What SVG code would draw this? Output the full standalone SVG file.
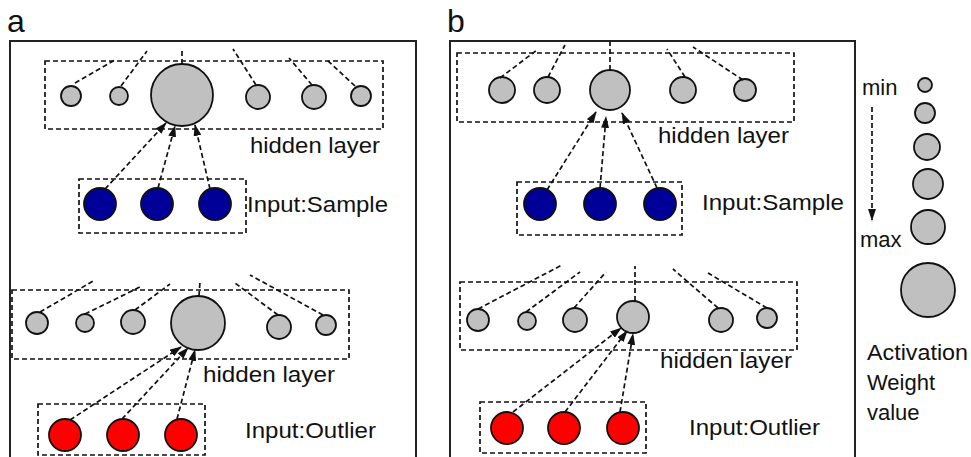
<svg xmlns="http://www.w3.org/2000/svg" width="971" height="457" viewBox="0 0 971 457">
  <style>
    .frame { fill: none; stroke: #222; stroke-width: 2; }
    .group { fill: none; stroke: #111; stroke-width: 1.7; stroke-dasharray: 5 3; }
    .link { fill: none; stroke: #111; stroke-width: 1.7; stroke-dasharray: 5 3; }
    .arrow { fill: none; stroke: #111; stroke-width: 1.7; stroke-dasharray: 5 3; marker-end: url(#head); }
    .hid { fill: #c0c0c0; stroke: #111; stroke-width: 1.8; }
    .smp { fill: #000099; stroke: #111; stroke-width: 1.8; }
    .out { fill: #ff0000; stroke: #111; stroke-width: 1.8; }
    text { font-family: "Liberation Sans", Arial, sans-serif; font-size: 22px; fill: #111; }
    .panel { font-size: 32px; }
  </style>
  <defs>
    <!-- elongated filled arrowhead -->
    <marker id="head" viewBox="0 0 12 8" refX="11" refY="4" markerWidth="7" markerHeight="4.7" orient="auto" markerUnits="strokeWidth">
      <path d="M0,0 L12,4 L0,8 z" fill="#111"/>
    </marker>
  </defs>

  <!-- panel labels and frames -->
  <text class="panel" x="7" y="32">a</text>
  <text class="panel" x="447" y="32">b</text>
  <rect class="frame" x="10" y="41" width="406" height="430"/>
  <rect class="frame" x="450" y="41" width="405" height="430"/>

  <!-- ===== panel a, sample ===== -->
  <g id="a-hidden-1">
    <rect class="group" x="45" y="61" width="338" height="68"/>
    <circle class="hid" cx="71" cy="96" r="10"/>
    <circle class="hid" cx="119" cy="96" r="9"/>
    <circle class="hid" cx="182" cy="95" r="31"/>
    <circle class="hid" cx="258" cy="97" r="12"/>
    <circle class="hid" cx="314" cy="97" r="12"/>
    <circle class="hid" cx="361" cy="96" r="10"/>
    <text x="250" y="153" textLength="130" lengthAdjust="spacingAndGlyphs">hidden layer</text>
  </g>
  <g id="a-input-sample">
    <rect class="group" x="79" y="179" width="167" height="54"/>
    <circle class="smp" cx="100" cy="204" r="16"/>
    <circle class="smp" cx="157" cy="204" r="16"/>
    <circle class="smp" cx="215" cy="204" r="16"/>
    <text x="247" y="212" textLength="141" lengthAdjust="spacingAndGlyphs">Input:Sample</text>
  </g>

  <!-- ===== panel a, outlier ===== -->
  <g id="a-hidden-2">
    <rect class="group" x="12" y="290" width="337" height="69"/>
    <circle class="hid" cx="37" cy="323" r="11"/>
    <circle class="hid" cx="85" cy="323" r="9"/>
    <circle class="hid" cx="133" cy="322" r="12"/>
    <circle class="hid" cx="198" cy="323" r="27"/>
    <circle class="hid" cx="279" cy="327" r="12"/>
    <circle class="hid" cx="326" cy="325" r="10"/>
    <text x="203" y="382" textLength="132" lengthAdjust="spacingAndGlyphs">hidden layer</text>
  </g>
  <g id="a-input-outlier">
    <rect class="group" x="38" y="404" width="167" height="51"/>
    <circle class="out" cx="65" cy="435" r="16"/>
    <circle class="out" cx="123" cy="435" r="16"/>
    <circle class="out" cx="181" cy="435" r="16"/>
    <text x="245" y="438" textLength="131" lengthAdjust="spacingAndGlyphs">Input:Outlier</text>
  </g>

  <!-- ===== panel b, sample ===== -->
  <g id="b-hidden-1">
    <rect class="group" x="457" y="53" width="337" height="69"/>
    <circle class="hid" cx="502" cy="90" r="13"/>
    <circle class="hid" cx="547" cy="90" r="13"/>
    <circle class="hid" cx="610" cy="90" r="20"/>
    <circle class="hid" cx="683" cy="90" r="13"/>
    <circle class="hid" cx="745" cy="90" r="11"/>
    <text x="658" y="143" textLength="131" lengthAdjust="spacingAndGlyphs">hidden layer</text>
  </g>
  <g id="b-input-sample">
    <rect class="group" x="517" y="182" width="165" height="53"/>
    <circle class="smp" cx="540" cy="204" r="16"/>
    <circle class="smp" cx="600" cy="204" r="16"/>
    <circle class="smp" cx="660" cy="204" r="16"/>
    <text x="702" y="210" textLength="142" lengthAdjust="spacingAndGlyphs">Input:Sample</text>
  </g>

  <!-- ===== panel b, outlier ===== -->
  <g id="b-hidden-2">
    <rect class="group" x="460" y="282" width="337" height="68"/>
    <circle class="hid" cx="478" cy="320" r="11"/>
    <circle class="hid" cx="527" cy="321" r="9"/>
    <circle class="hid" cx="575" cy="320" r="12"/>
    <circle class="hid" cx="633" cy="317" r="16"/>
    <circle class="hid" cx="721" cy="320" r="12"/>
    <circle class="hid" cx="767" cy="318" r="10"/>
    <text x="660" y="368" textLength="132" lengthAdjust="spacingAndGlyphs">hidden layer</text>
  </g>
  <g id="b-input-outlier">
    <rect class="group" x="480" y="402" width="166" height="51"/>
    <circle class="out" cx="507" cy="428" r="16"/>
    <circle class="out" cx="564" cy="428" r="16"/>
    <circle class="out" cx="623" cy="428" r="16"/>
    <text x="689" y="435" textLength="131" lengthAdjust="spacingAndGlyphs">Input:Outlier</text>
  </g>

  <!-- ===== legend ===== -->
  <g id="legend">
    <text x="862" y="95">min</text>
    <text x="860" y="247">max</text>
    <circle class="hid" cx="925" cy="85" r="7"/>
    <circle class="hid" cx="925" cy="113" r="10"/>
    <circle class="hid" cx="927" cy="147" r="13"/>
    <circle class="hid" cx="928" cy="184" r="15"/>
    <circle class="hid" cx="928" cy="227" r="17"/>
    <circle class="hid" cx="928" cy="290" r="27"/>
    <text x="867" y="360" textLength="101" lengthAdjust="spacingAndGlyphs">Activation</text>
    <text x="867" y="390">Weight</text>
    <text x="867" y="420">value</text>
  </g>

  <!-- ===== connectors ===== -->
  <g id="connectors">
    <!-- panel a, sample: fan-out from hidden units -->
    <line class="link" x1="75" y1="83" x2="115" y2="60"/>
    <line class="link" x1="121" y1="86" x2="147" y2="51"/>
    <line class="link" x1="182" y1="64" x2="182" y2="50"/>
    <line class="link" x1="256" y1="85" x2="233" y2="49"/>
    <line class="link" x1="312" y1="85" x2="289" y2="58"/>
    <line class="link" x1="355" y1="86" x2="327" y2="60"/>
    <line class="arrow" x1="105" y1="189" x2="166" y2="123"/>
    <line class="arrow" x1="158" y1="188" x2="175" y2="126"/>
    <line class="arrow" x1="210" y1="189" x2="195" y2="125"/>

    <!-- panel a, outlier -->
    <line class="link" x1="40" y1="312" x2="95" y2="280"/>
    <line class="link" x1="85" y1="314" x2="142" y2="286"/>
    <line class="link" x1="135" y1="310" x2="170" y2="284"/>
    <line class="link" x1="199" y1="296" x2="200" y2="282"/>
    <line class="link" x1="278" y1="315" x2="235" y2="283"/>
    <line class="link" x1="323" y1="315" x2="250" y2="275"/>
    <line class="arrow" x1="70" y1="420" x2="181" y2="347"/>
    <line class="arrow" x1="122" y1="419" x2="188" y2="348"/>
    <line class="arrow" x1="177" y1="419" x2="195" y2="350"/>

    <!-- panel b, sample -->
    <line class="link" x1="500" y1="78" x2="537" y2="50"/>
    <line class="link" x1="548" y1="77" x2="565" y2="45"/>
    <line class="link" x1="610" y1="70" x2="610" y2="42"/>
    <line class="link" x1="685" y1="77" x2="667" y2="49"/>
    <line class="link" x1="743" y1="80" x2="693" y2="47"/>
    <line class="arrow" x1="547" y1="190" x2="596" y2="112"/>
    <line class="arrow" x1="600" y1="188" x2="606" y2="117"/>
    <line class="arrow" x1="657" y1="188" x2="622" y2="113"/>

    <!-- panel b, outlier -->
    <line class="link" x1="478" y1="309" x2="562" y2="265"/>
    <line class="link" x1="526" y1="312" x2="580" y2="272"/>
    <line class="link" x1="574" y1="308" x2="606" y2="272"/>
    <line class="link" x1="635" y1="301" x2="635" y2="266"/>
    <line class="link" x1="718" y1="308" x2="673" y2="269"/>
    <line class="link" x1="767" y1="308" x2="708" y2="273"/>
    <line class="arrow" x1="513" y1="412" x2="621" y2="328"/>
    <line class="arrow" x1="565" y1="412" x2="627" y2="331"/>
    <line class="arrow" x1="620" y1="412" x2="633" y2="334"/>

    <!-- legend scale arrow -->
    <line class="arrow" x1="872" y1="107" x2="872" y2="220"/>
  </g>
</svg>
